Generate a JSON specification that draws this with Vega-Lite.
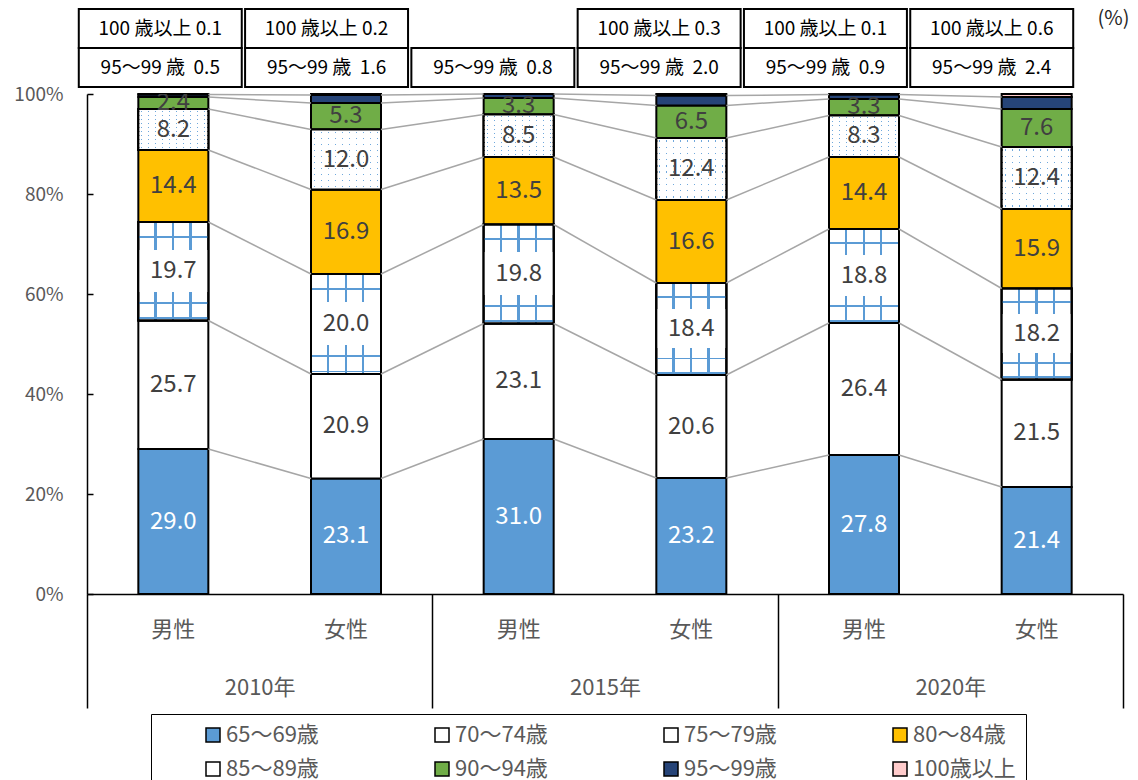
{
  "$schema": "https://vega.github.io/schema/vega-lite/v6.json",
  "autosize": {"type": "pad"},
  "padding": {"left": 13, "top": 8, "right": 0, "bottom": 0},
  "config": {
    "font": "Noto Sans CJK JP",
    "view": {"stroke": null}
  },
  "datasets": {
    "pop": [
      {"year": "2010年", "sex": "男性", "age": "65～69歳", "value": 29.0},
      {"year": "2010年", "sex": "男性", "age": "70～74歳", "value": 25.7},
      {"year": "2010年", "sex": "男性", "age": "75～79歳", "value": 19.7},
      {"year": "2010年", "sex": "男性", "age": "80～84歳", "value": 14.4},
      {"year": "2010年", "sex": "男性", "age": "85～89歳", "value": 8.2},
      {"year": "2010年", "sex": "男性", "age": "90～94歳", "value": 2.4},
      {"year": "2010年", "sex": "男性", "age": "95～99歳", "value": 0.5},
      {"year": "2010年", "sex": "男性", "age": "100歳以上", "value": 0.1},
      {"year": "2010年", "sex": "女性", "age": "65～69歳", "value": 23.1},
      {"year": "2010年", "sex": "女性", "age": "70～74歳", "value": 20.9},
      {"year": "2010年", "sex": "女性", "age": "75～79歳", "value": 20.0},
      {"year": "2010年", "sex": "女性", "age": "80～84歳", "value": 16.9},
      {"year": "2010年", "sex": "女性", "age": "85～89歳", "value": 12.0},
      {"year": "2010年", "sex": "女性", "age": "90～94歳", "value": 5.3},
      {"year": "2010年", "sex": "女性", "age": "95～99歳", "value": 1.6},
      {"year": "2010年", "sex": "女性", "age": "100歳以上", "value": 0.2},
      {"year": "2015年", "sex": "男性", "age": "65～69歳", "value": 31.0},
      {"year": "2015年", "sex": "男性", "age": "70～74歳", "value": 23.1},
      {"year": "2015年", "sex": "男性", "age": "75～79歳", "value": 19.8},
      {"year": "2015年", "sex": "男性", "age": "80～84歳", "value": 13.5},
      {"year": "2015年", "sex": "男性", "age": "85～89歳", "value": 8.5},
      {"year": "2015年", "sex": "男性", "age": "90～94歳", "value": 3.3},
      {"year": "2015年", "sex": "男性", "age": "95～99歳", "value": 0.8},
      {"year": "2015年", "sex": "女性", "age": "65～69歳", "value": 23.2},
      {"year": "2015年", "sex": "女性", "age": "70～74歳", "value": 20.6},
      {"year": "2015年", "sex": "女性", "age": "75～79歳", "value": 18.4},
      {"year": "2015年", "sex": "女性", "age": "80～84歳", "value": 16.6},
      {"year": "2015年", "sex": "女性", "age": "85～89歳", "value": 12.4},
      {"year": "2015年", "sex": "女性", "age": "90～94歳", "value": 6.5},
      {"year": "2015年", "sex": "女性", "age": "95～99歳", "value": 2.0},
      {"year": "2015年", "sex": "女性", "age": "100歳以上", "value": 0.3},
      {"year": "2020年", "sex": "男性", "age": "65～69歳", "value": 27.8},
      {"year": "2020年", "sex": "男性", "age": "70～74歳", "value": 26.4},
      {"year": "2020年", "sex": "男性", "age": "75～79歳", "value": 18.8},
      {"year": "2020年", "sex": "男性", "age": "80～84歳", "value": 14.4},
      {"year": "2020年", "sex": "男性", "age": "85～89歳", "value": 8.3},
      {"year": "2020年", "sex": "男性", "age": "90～94歳", "value": 3.3},
      {"year": "2020年", "sex": "男性", "age": "95～99歳", "value": 0.9},
      {"year": "2020年", "sex": "男性", "age": "100歳以上", "value": 0.1},
      {"year": "2020年", "sex": "女性", "age": "65～69歳", "value": 21.4},
      {"year": "2020年", "sex": "女性", "age": "70～74歳", "value": 21.5},
      {"year": "2020年", "sex": "女性", "age": "75～79歳", "value": 18.2},
      {"year": "2020年", "sex": "女性", "age": "80～84歳", "value": 15.9},
      {"year": "2020年", "sex": "女性", "age": "85～89歳", "value": 12.4},
      {"year": "2020年", "sex": "女性", "age": "90～94歳", "value": 7.6},
      {"year": "2020年", "sex": "女性", "age": "95～99歳", "value": 2.4},
      {"year": "2020年", "sex": "女性", "age": "100歳以上", "value": 0.6}
    ]
  },
  "bounds": "flush",
  "spacing": 7,
  "resolve": {"scale": {"x": "independent", "y": "independent"}},
  "vconcat": [
    {
      "width": 1036,
      "height": 78,
      "data": {"name": "pop"},
      "transform": [
        {"filter": "datum.age == '95～99歳' || datum.age == '100歳以上'"},
        {"calculate": "datum.year + datum.sex", "as": "bar"},
        {"calculate": "replace(datum.age, '歳', ' 歳') + (datum.age == '95～99歳' ? '\u00a0 ' : ' ') + format(datum.value, '.1f')", "as": "boxtext"}
      ],
      "encoding": {
        "x": {
          "field": "bar", "type": "nominal",
          "scale": {"domain": ["2010年男性", "2010年女性", "2015年男性", "2015年女性", "2020年男性", "2020年女性"], "paddingInner": 0.02, "paddingOuter": 0.125},
          "axis": null
        },
        "y": {
          "field": "age", "type": "nominal",
          "scale": {"domain": ["100歳以上", "95～99歳"], "paddingInner": 0, "paddingOuter": 0},
          "axis": null
        }
      },
      "layer": [
        {"mark": {"type": "rect", "fill": "white", "stroke": "black", "strokeWidth": 2, "xOffset": -29, "x2Offset": -29}},
        {"mark": {"type": "text", "xOffset": -29, "fontSize": 19, "color": "black", "baseline": "middle"}, "encoding": {"text": {"field": "boxtext"}}}
      ]
    },
    {
      "width": 1036,
      "height": 500,
      "data": {"name": "pop"},
      "resolve": {"scale": {"x": "independent"}, "axis": {"x": "independent"}},
      "layer": [
        {
          "transform": [
            {"calculate": "datum.year + datum.sex", "as": "bar"},
            {"stack": "value", "groupby": ["bar"], "as": ["y0", "y1"]}
          ],
          "encoding": {
            "x": {
              "field": "bar", "type": "nominal",
              "scale": {"domain": ["2010年男性", "2010年女性", "2015年男性", "2015年女性", "2020年男性", "2020年女性"], "paddingInner": 0, "paddingOuter": 0},
              "axis": {"title": null, "labelExpr": "substring(datum.label, 5)", "ticks": false, "domainColor": "black", "domainWidth": 1.5, "labelFontSize": 22, "labelColor": "#595959", "labelPadding": 25, "labelAngle": 0}
            }
          },
          "layer": [
            {
              "mark": {"type": "bar", "width": 70, "stroke": "black", "strokeWidth": 2},
              "encoding": {
                "y": {
                  "field": "y1", "type": "quantitative", "title": "(%)",
                  "scale": {"domain": [0, 100], "nice": false},
                  "axis": {"values": [0, 20, 40, 60, 80, 100], "labelExpr": "datum.value + '%'", "grid": false, "domainColor": "black", "domainWidth": 1.5, "tickColor": "black", "tickWidth": 1.5, "tickSize": -6, "labelPadding": 30, "labelFontSize": 19, "labelColor": "#595959", "titleAngle": 0, "titleX": 1010, "titleY": -76, "titleAlign": "left", "titleBaseline": "middle", "titleFontSize": 20, "titleFontWeight": "normal", "titleColor": "#262626"}
                },
                "y2": {"field": "y0"},
                "fill": {
                  "field": "age", "type": "nominal",
                  "scale": {
                    "domain": ["65～69歳", "70～74歳", "75～79歳", "80～84歳", "85～89歳", "90～94歳", "95～99歳", "100歳以上"],
                    "range": ["#5B9BD5", "#FFFFFF", "#FFFFFF", "#FFC000", "#FFFFFF", "#70AD47", "#264478", "#FFCCCC"]
                  },
                  "legend": {"title": null, "orient": "none", "legendX": 64, "legendY": 705, "direction": "horizontal", "columns": 4, "strokeColor": "black", "padding": 10, "symbolType": "square", "symbolSize": 196, "symbolStrokeColor": "black", "symbolStrokeWidth": 1.5, "symbolOffset": 41, "labelOffset": 2, "labelFontSize": 22, "labelColor": "#595959", "columnPadding": 71, "rowPadding": 12}
                }
              }
            },
            {
              "transform": [{"filter": "datum.age == '75～79歳'"}],
              "mark": {"type": "bar", "width": 70, "stroke": "black", "strokeWidth": 2,
                "fill": {"gradient": "linear", "x1": 0, "x2": 1, "y1": 0, "y2": 0, "stops": [
                  {"offset": 0, "color": "#FFFFFF"}, {"offset": 0.228, "color": "#FFFFFF"}, {"offset": 0.228, "color": "#5B9BD5"}, {"offset": 0.262, "color": "#5B9BD5"}, {"offset": 0.262, "color": "#FFFFFF"},
                  {"offset": 0.479, "color": "#FFFFFF"}, {"offset": 0.479, "color": "#5B9BD5"}, {"offset": 0.513, "color": "#5B9BD5"}, {"offset": 0.513, "color": "#FFFFFF"},
                  {"offset": 0.73, "color": "#FFFFFF"}, {"offset": 0.73, "color": "#5B9BD5"}, {"offset": 0.764, "color": "#5B9BD5"}, {"offset": 0.764, "color": "#FFFFFF"},
                  {"offset": 1, "color": "#FFFFFF"}]}},
              "encoding": {"y": {"field": "y1", "type": "quantitative", "title": "(%)"}, "y2": {"field": "y0"}}
            },
            {
              "transform": [{"filter": "datum.age == '75～79歳'"}],
              "mark": {"type": "bar", "width": 70, "stroke": "black", "strokeWidth": 2,
                "fill": {"gradient": "linear", "x1": 0, "x2": 0, "y1": 0, "y2": 1, "stops": [
                  {"offset": 0, "color": "rgba(255,255,255,0)"}, {"offset": 0.14, "color": "rgba(255,255,255,0)"}, {"offset": 0.14, "color": "#5B9BD5"}, {"offset": 0.16, "color": "#5B9BD5"}, {"offset": 0.16, "color": "rgba(255,255,255,0)"},
                  {"offset": 0.28, "color": "rgba(255,255,255,0)"}, {"offset": 0.28, "color": "#FFFFFF"}, {"offset": 0.71, "color": "#FFFFFF"}, {"offset": 0.71, "color": "rgba(255,255,255,0)"},
                  {"offset": 0.81, "color": "rgba(255,255,255,0)"}, {"offset": 0.81, "color": "#5B9BD5"}, {"offset": 0.83, "color": "#5B9BD5"}, {"offset": 0.83, "color": "rgba(255,255,255,0)"},
                  {"offset": 0.965, "color": "rgba(255,255,255,0)"}, {"offset": 0.965, "color": "#5B9BD5"}, {"offset": 0.985, "color": "#5B9BD5"}, {"offset": 0.985, "color": "rgba(255,255,255,0)"},
                  {"offset": 1, "color": "rgba(255,255,255,0)"}]}},
              "encoding": {"y": {"field": "y1", "type": "quantitative", "title": "(%)"}, "y2": {"field": "y0"}}
            },
            {
              "transform": [{"filter": "datum.age == '85～89歳'"}],
              "mark": {"type": "bar", "width": 70, "stroke": "black", "strokeWidth": 2,
                "fill": {"gradient": "linear", "x1": 0, "x2": 1, "y1": 0, "y2": 0, "stops": [
                  {"offset": 0, "color": "#FFFFFF"},
                  {"offset": 0.041, "color": "#FFFFFF"}, {"offset": 0.041, "color": "#6FA8DC"}, {"offset": 0.059, "color": "#6FA8DC"}, {"offset": 0.059, "color": "#FFFFFF"},
                  {"offset": 0.141, "color": "#FFFFFF"}, {"offset": 0.141, "color": "#6FA8DC"}, {"offset": 0.159, "color": "#6FA8DC"}, {"offset": 0.159, "color": "#FFFFFF"},
                  {"offset": 0.241, "color": "#FFFFFF"}, {"offset": 0.241, "color": "#6FA8DC"}, {"offset": 0.259, "color": "#6FA8DC"}, {"offset": 0.259, "color": "#FFFFFF"},
                  {"offset": 0.341, "color": "#FFFFFF"}, {"offset": 0.341, "color": "#6FA8DC"}, {"offset": 0.359, "color": "#6FA8DC"}, {"offset": 0.359, "color": "#FFFFFF"},
                  {"offset": 0.441, "color": "#FFFFFF"}, {"offset": 0.441, "color": "#6FA8DC"}, {"offset": 0.459, "color": "#6FA8DC"}, {"offset": 0.459, "color": "#FFFFFF"},
                  {"offset": 0.541, "color": "#FFFFFF"}, {"offset": 0.541, "color": "#6FA8DC"}, {"offset": 0.559, "color": "#6FA8DC"}, {"offset": 0.559, "color": "#FFFFFF"},
                  {"offset": 0.641, "color": "#FFFFFF"}, {"offset": 0.641, "color": "#6FA8DC"}, {"offset": 0.659, "color": "#6FA8DC"}, {"offset": 0.659, "color": "#FFFFFF"},
                  {"offset": 0.741, "color": "#FFFFFF"}, {"offset": 0.741, "color": "#6FA8DC"}, {"offset": 0.759, "color": "#6FA8DC"}, {"offset": 0.759, "color": "#FFFFFF"},
                  {"offset": 0.841, "color": "#FFFFFF"}, {"offset": 0.841, "color": "#6FA8DC"}, {"offset": 0.859, "color": "#6FA8DC"}, {"offset": 0.859, "color": "#FFFFFF"},
                  {"offset": 0.941, "color": "#FFFFFF"}, {"offset": 0.941, "color": "#6FA8DC"}, {"offset": 0.959, "color": "#6FA8DC"}, {"offset": 0.959, "color": "#FFFFFF"},
                  {"offset": 1, "color": "#FFFFFF"}]}},
              "encoding": {"y": {"field": "y1", "type": "quantitative", "title": "(%)"}, "y2": {"field": "y0"}}
            },
            {
              "transform": [{"filter": "datum.age == '85～89歳'"}],
              "mark": {"type": "bar", "width": 70, "stroke": "black", "strokeWidth": 2,
                "fill": {"gradient": "linear", "x1": 0, "x2": 0, "y1": 0, "y2": 1, "stops": [
                  {"offset": 0, "color": "#FFFFFF"},
                  {"offset": 0.038, "color": "#FFFFFF"}, {"offset": 0.038, "color": "rgba(255,255,255,0)"}, {"offset": 0.062, "color": "rgba(255,255,255,0)"}, {"offset": 0.062, "color": "#FFFFFF"},
                  {"offset": 0.138, "color": "#FFFFFF"}, {"offset": 0.138, "color": "rgba(255,255,255,0)"}, {"offset": 0.162, "color": "rgba(255,255,255,0)"}, {"offset": 0.162, "color": "#FFFFFF"},
                  {"offset": 0.238, "color": "#FFFFFF"}, {"offset": 0.238, "color": "rgba(255,255,255,0)"}, {"offset": 0.262, "color": "rgba(255,255,255,0)"}, {"offset": 0.262, "color": "#FFFFFF"},
                  {"offset": 0.338, "color": "#FFFFFF"}, {"offset": 0.338, "color": "rgba(255,255,255,0)"}, {"offset": 0.362, "color": "rgba(255,255,255,0)"}, {"offset": 0.362, "color": "#FFFFFF"},
                  {"offset": 0.438, "color": "#FFFFFF"}, {"offset": 0.438, "color": "rgba(255,255,255,0)"}, {"offset": 0.462, "color": "rgba(255,255,255,0)"}, {"offset": 0.462, "color": "#FFFFFF"},
                  {"offset": 0.538, "color": "#FFFFFF"}, {"offset": 0.538, "color": "rgba(255,255,255,0)"}, {"offset": 0.562, "color": "rgba(255,255,255,0)"}, {"offset": 0.562, "color": "#FFFFFF"},
                  {"offset": 0.638, "color": "#FFFFFF"}, {"offset": 0.638, "color": "rgba(255,255,255,0)"}, {"offset": 0.662, "color": "rgba(255,255,255,0)"}, {"offset": 0.662, "color": "#FFFFFF"},
                  {"offset": 0.738, "color": "#FFFFFF"}, {"offset": 0.738, "color": "rgba(255,255,255,0)"}, {"offset": 0.762, "color": "rgba(255,255,255,0)"}, {"offset": 0.762, "color": "#FFFFFF"},
                  {"offset": 0.838, "color": "#FFFFFF"}, {"offset": 0.838, "color": "rgba(255,255,255,0)"}, {"offset": 0.862, "color": "rgba(255,255,255,0)"}, {"offset": 0.862, "color": "#FFFFFF"},
                  {"offset": 0.938, "color": "#FFFFFF"}, {"offset": 0.938, "color": "rgba(255,255,255,0)"}, {"offset": 0.962, "color": "rgba(255,255,255,0)"}, {"offset": 0.962, "color": "#FFFFFF"},
                  {"offset": 1, "color": "#FFFFFF"}]}},
              "encoding": {"y": {"field": "y1", "type": "quantitative", "title": "(%)"}, "y2": {"field": "y0"}}
            },
            {
              "transform": [
                {"window": [{"op": "lead", "field": "y1", "as": "ny1"}, {"op": "lead", "field": "bar", "as": "nbar"}], "groupby": ["age"]},
                {"filter": "datum.nbar != null && datum.age != '100歳以上'"}
              ],
              "mark": {"type": "rule", "color": "#A6A6A6", "strokeWidth": 1.5, "xOffset": 35, "x2Offset": -35},
              "encoding": {
                "x2": {"field": "nbar"},
                "y": {"field": "y1", "type": "quantitative", "title": "(%)"},
                "y2": {"field": "ny1"}
              }
            },
            {
              "transform": [
                {"filter": "datum.age != '95～99歳' && datum.age != '100歳以上'"},
                {"calculate": "(datum.y0 + datum.y1) / 2", "as": "mid"}
              ],
              "mark": {"type": "text", "fontSize": 24, "baseline": "middle", "clip": true},
              "encoding": {
                "y": {"field": "mid", "type": "quantitative", "title": "(%)"},
                "text": {"field": "value", "type": "quantitative", "format": ".1f"},
                "color": {"condition": {"test": "datum.age == '65～69歳'", "value": "#FFFFFF"}, "value": "#404040"}
              }
            }
          ]
        },
        {
          "mark": {"type": "point", "opacity": 0},
          "encoding": {
            "x": {
              "field": "year", "type": "nominal",
              "scale": {"type": "band", "domain": ["2010年", "2015年", "2020年"], "paddingInner": 0, "paddingOuter": 0},
              "axis": {"orient": "bottom", "title": null, "domain": false, "tickBand": "extent", "tickSize": 114, "tickWidth": 1.5, "tickColor": "black", "labelPadding": -31, "labelFontSize": 22, "labelColor": "#595959", "labelAngle": 0}
            }
          }
        }
      ]
    }
  ]
}
